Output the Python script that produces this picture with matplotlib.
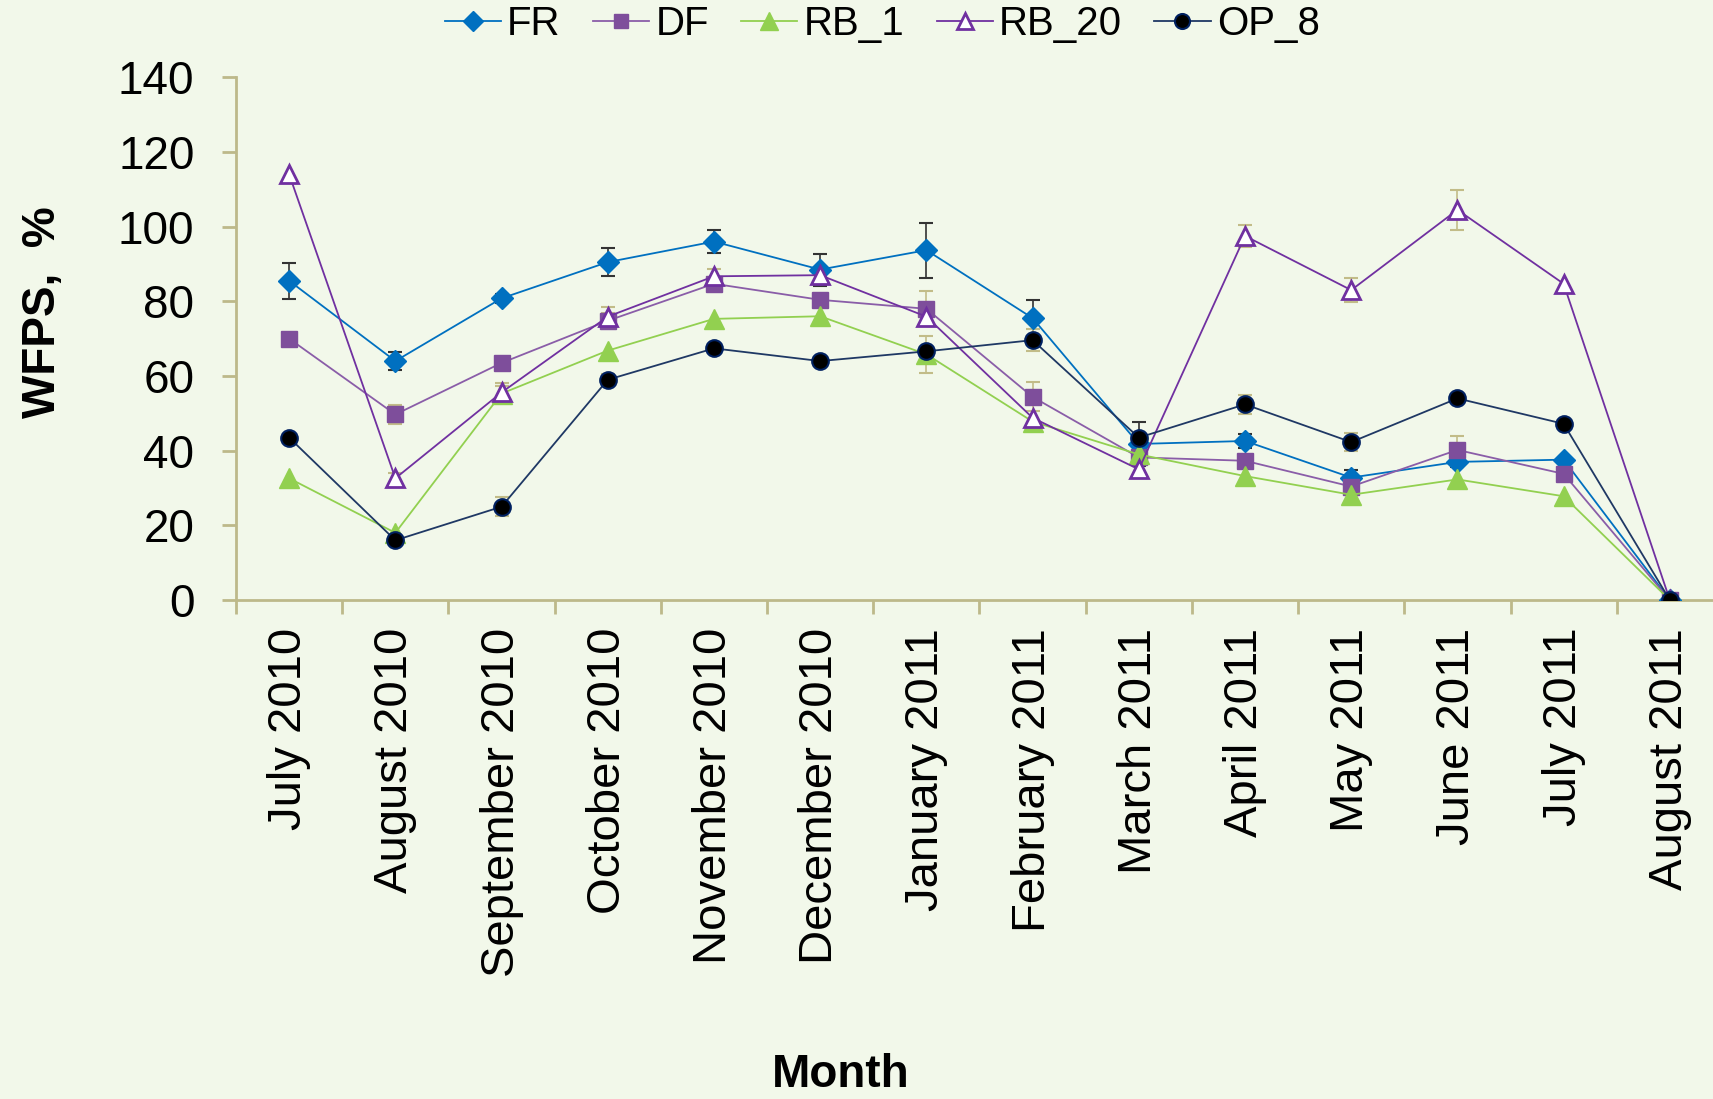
import matplotlib.pyplot as plt
import numpy as np

# WFPS by month, five treatments
months = ["July 2010", "August 2010", "September 2010", "October 2010",
          "November 2010", "December 2010", "January 2011", "February 2011",
          "March 2011", "April 2011", "May 2011", "June 2011", "July 2011",
          "August 2011"]

fr = [85.5, 64, 80.8, 90.5, 96, 88.5, 93.7, 75.5, 41.8, 42.6, 32.8, 37, 37.6, 0]
df = [70, 49.7, 63.5, 74.8, 84.7, 80.4, 78, 54.4, 38.2, 37.3, 30.4, 40.2, 33.8, 0]
rb_1 = [32.6, 18, 55.3, 66.8, 75.3, 76, 65.8, 47.8, 39, 33.2, 28.2, 32.3, 27.8, 0]
rb_20 = [114, 32.6, 55.6, 75.9, 86.7, 87, 75.9, 48.8, 35, 97.5, 83, 104.5, 84.7, 0]
op_8 = [43.5, 16, 25, 59, 67.4, 64, 66.6, 69.6, 43.5, 52.4, 42.3, 54, 47.2, 0]

fr_err = [4.8, 2.4, 1.2, 3.7, 3.0, 4.3, 7.4, 4.8, 6.0, 1.8, 1.9, 1.5, 0, 0]
df_err = [0, 2.5, 0, 2.0, 1.0, 0, 4.7, 3.9, 0, 0, 0, 3.8, 0, 0]
rb_1_err = [0, 0, 2.0, 0, 0, 0, 5.0, 0, 0, 0, 0, 0, 0, 0]
rb_20_err = [0, 1.5, 2.5, 2.5, 2.0, 1.5, 2.0, 0, 0, 3.0, 3.2, 5.3, 0, 0]
op_8_err = [0, 0, 2.5, 1.5, 0, 0, 0, 3.0, 0, 2.6, 2.4, 0, 0, 0]

bg = "#F2F8EA"
axcol = "#BDB98A"
tan = "#C2BC88"

plt.rcParams['font.family'] = ['Liberation Sans', 'DejaVu Sans']

fig = plt.figure(figsize=(17.13, 10.99), dpi=100, facecolor=bg)
ax = fig.add_axes([0.1378, 0.454, 0.868, 0.4757])
ax.set_facecolor(bg)

x = np.arange(len(months))

series = [
    ("FR", fr, fr_err, dict(color="#0070C0", marker="D", markersize=11,
                           markerfacecolor="#0070C0", markeredgecolor="#0070C0"), "#333333"),
    ("DF", df, df_err, dict(color="#8A5DA8", marker="s", markersize=11,
                           markerfacecolor="#7E4E9B", markeredgecolor="#7E4E9B"), tan),
    ("RB_1", rb_1, rb_1_err, dict(color="#92D050", marker="^", markersize=14,
                                 markerfacecolor="#92D050", markeredgecolor="#92D050"), tan),
    ("RB_20", rb_20, rb_20_err, dict(color="#7030A0", marker="^", markersize=13,
                                    markerfacecolor="white", markeredgecolor="#7030A0",
                                    markeredgewidth=2), tan),
    ("OP_8", op_8, op_8_err, dict(color="#1F3864", marker="o", markersize=12,
                                 markerfacecolor="black", markeredgecolor="#002060",
                                 markeredgewidth=1.5), tan),
]

handles = []
for name, vals, err, style, ecol in series:
    e = np.array(err, dtype=float)
    mask = e > 0
    ax.errorbar(x[mask], np.array(vals)[mask], yerr=e[mask], fmt="none",
                ecolor=ecol, elinewidth=1.2, capsize=5, capthick=1.5, zorder=2)
    h, = ax.plot(x, vals, linewidth=1.3, label=name, zorder=3, **style)
    handles.append(h)

ax.set_xlim(-0.5, len(months) - 0.5)
ax.set_ylim(0, 140)
ax.set_yticks(range(0, 141, 20))
ax.set_xticks(x)
ax.set_xticklabels(months, rotation=90, fontsize=34)
ax.set_xticks(np.arange(-0.5, len(months), 1), minor=True)
ax.tick_params(axis="x", which="major", length=0, pad=20)
ax.tick_params(axis="x", which="minor", length=10, width=2, color=axcol, direction="out")
ax.tick_params(axis="y", length=10, width=2, color=axcol, pad=20, labelsize=33)

for s in ["top", "right"]:
    ax.spines[s].set_visible(False)
for s in ["left", "bottom"]:
    ax.spines[s].set_color(axcol)
    ax.spines[s].set_linewidth(2)

ax.set_ylabel("WFPS,  %", fontsize=33, fontweight="bold")
ax.yaxis.set_label_coords(-0.115, 0.55)
fig.text(0.491, 0.022, "Month", fontsize=33, fontweight="bold", ha="center", va="center")

fig.legend(handles=handles, loc="center", bbox_to_anchor=(0.515, 0.978), ncol=5,
           frameon=False, handlelength=1.4, handletextpad=0.15,
           columnspacing=0.8, borderaxespad=0, markerscale=0.9, fontsize=29)

fig.savefig("out.png", dpi=100, facecolor=bg)
